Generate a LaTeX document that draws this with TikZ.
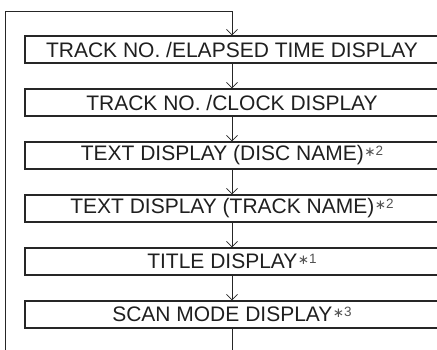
\documentclass[tikz,border=0pt]{standalone}
\usepackage{fontspec}
\setmainfont{Liberation Sans}
\newfontfamily\symfont{DejaVu Sans}
\usetikzlibrary{arrows.meta}
\tikzset{
  dispbox/.style={draw=black!85, line width=1.1pt, minimum width=414pt, minimum height=27pt, inner sep=0pt, font=\fontsize{21}{21}\selectfont, text=black!88},
  flow/.style={draw=black!85, line width=0.8pt, -{Straight Barb[length=5.5pt,width=11pt]}},
}
\newcommand{\nt}[1]{\hspace{0.5pt}\raisebox{5.5pt}{\fontsize{13.5}{13.5}\selectfont\color{black!68}{\symfont\raisebox{-1pt}{∗}}#1}}
\begin{document}
\begin{tikzpicture}[x=1pt,y=1pt]
\useasboundingbox (0,0) rectangle (437,349);
\clip (0,0) rectangle (437,349);
\node[dispbox] (b1) at (232,299.5) {TRACK NO. /ELAPSED TIME DISPLAY};
\node[dispbox] (b2) at (232,246.5) {TRACK NO. /CLOCK DISPLAY};
\node[dispbox] (b3) at (232,193.5) {TEXT DISPLAY (DISC NAME)\nt{2}};
\node[dispbox] (b4) at (232,140.5) {TEXT DISPLAY (TRACK NAME)\nt{2}};
\node[dispbox] (b5) at (232,87.5) {TITLE DISPLAY\nt{1}};
\node[dispbox] (b6) at (232,34.5) {SCAN MODE DISPLAY\nt{3}};
\coordinate (loopL) at (5,-10);
\coordinate (loopT) at (232,338);
\draw[flow] (b1) -- (b2);
\draw[flow] (b2) -- (b3);
\draw[flow] (b3) -- (b4);
\draw[flow] (b4) -- (b5);
\draw[flow] (b5) -- (b6);
\draw[flow] (b6.south) |- (loopL) |- (loopT) -- (b1.north);
\end{tikzpicture}
\end{document}
